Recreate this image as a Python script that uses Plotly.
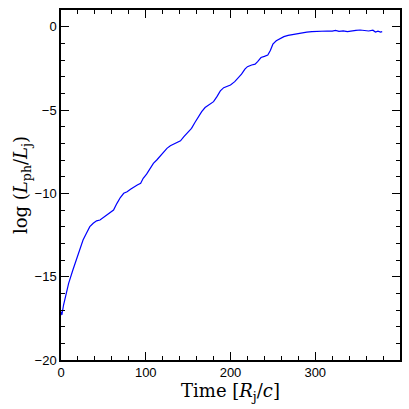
import plotly.graph_objects as go

# time in units of R_j/c, log luminosity ratio
time = [0, 1, 3, 5, 9, 14, 18, 22, 26, 30, 34, 38, 42, 46, 50, 54, 58, 62,
        66, 70, 74, 78, 82, 86, 90, 94, 97, 101, 105, 109, 113, 117, 121,
        125, 129, 133, 137, 141, 145, 150, 154, 158, 162, 166, 170, 175,
        180, 184, 188, 192, 196, 200, 205, 209, 213, 217, 220, 225, 229,
        232, 236, 240, 244, 247, 250, 254, 258, 263, 268, 273, 278, 284,
        290, 296, 302, 308, 314, 320, 324, 328, 333, 338, 343, 348, 353,
        358, 363, 368, 371, 374, 377, 379]
log_l = [-17.1, -17.3, -16.7, -16.3, -15.4, -14.6, -14.0, -13.4, -12.8,
         -12.4, -12.0, -11.8, -11.65, -11.6, -11.45, -11.3, -11.15, -11.0,
         -10.6, -10.25, -10.0, -9.9, -9.75, -9.6, -9.5, -9.4, -9.1, -8.85,
         -8.5, -8.2, -8.0, -7.75, -7.5, -7.3, -7.15, -7.05, -6.97, -6.85,
         -6.6, -6.35, -6.1, -5.75, -5.4, -5.1, -4.85, -4.7, -4.5, -4.2,
         -3.85, -3.66, -3.6, -3.5, -3.3, -3.1, -2.85, -2.55, -2.4, -2.3,
         -2.25, -2.1, -1.85, -1.78, -1.7, -1.43, -1.05, -0.85, -0.72, -0.6,
         -0.52, -0.47, -0.42, -0.36, -0.33, -0.3, -0.28, -0.27, -0.26,
         -0.27, -0.22, -0.28, -0.25, -0.3, -0.24, -0.22, -0.2, -0.24, -0.26,
         -0.21, -0.32, -0.27, -0.33, -0.3]

fig = go.Figure()
fig.add_trace(go.Scatter(x=time, y=log_l, mode="lines",
                         line=dict(color="#0000ff", width=1.2)))

axis_style = dict(
    showline=True, linecolor="black", linewidth=1.5, mirror="ticks",
    ticks="inside", ticklen=8, tickwidth=1.2, tickcolor="black",
    showgrid=False, zeroline=False, automargin=False,
    tickfont=dict(family="Liberation Sans", size=13, color="black"),
)

fig.update_xaxes(range=[0, 400], tickvals=[0, 100, 200, 300],
                 minor=dict(dtick=20, ticks="inside", ticklen=4, tickcolor="black"),
                 title=dict(text="Time [<i>R</i><sub>j</sub>/<i>c</i>]",
                            font=dict(family="DejaVu Serif", size=18, color="black"),
                            standoff=2),
                 **axis_style)
fig.update_yaxes(range=[-20, 1], tickvals=[0, -5, -10, -15, -20],
                 minor=dict(dtick=1, ticks="inside", ticklen=4, tickcolor="black"),
                 title=dict(text="log (<i>L</i><sub>ph</sub>/<i>L</i><sub>j</sub>)",
                            font=dict(family="DejaVu Serif", size=18, color="black"),
                            standoff=2),
                 **axis_style)

fig.update_layout(width=409, height=409, showlegend=False,
                  margin=dict(l=61, r=9, t=10, b=49),
                  plot_bgcolor="white", paper_bgcolor="white")

# page body has a default margin; drop it so the figure sits at the corner
fig.write_html("out.html", config={"displayModeBar": False},
               post_script="document.body.style.margin='0';")
